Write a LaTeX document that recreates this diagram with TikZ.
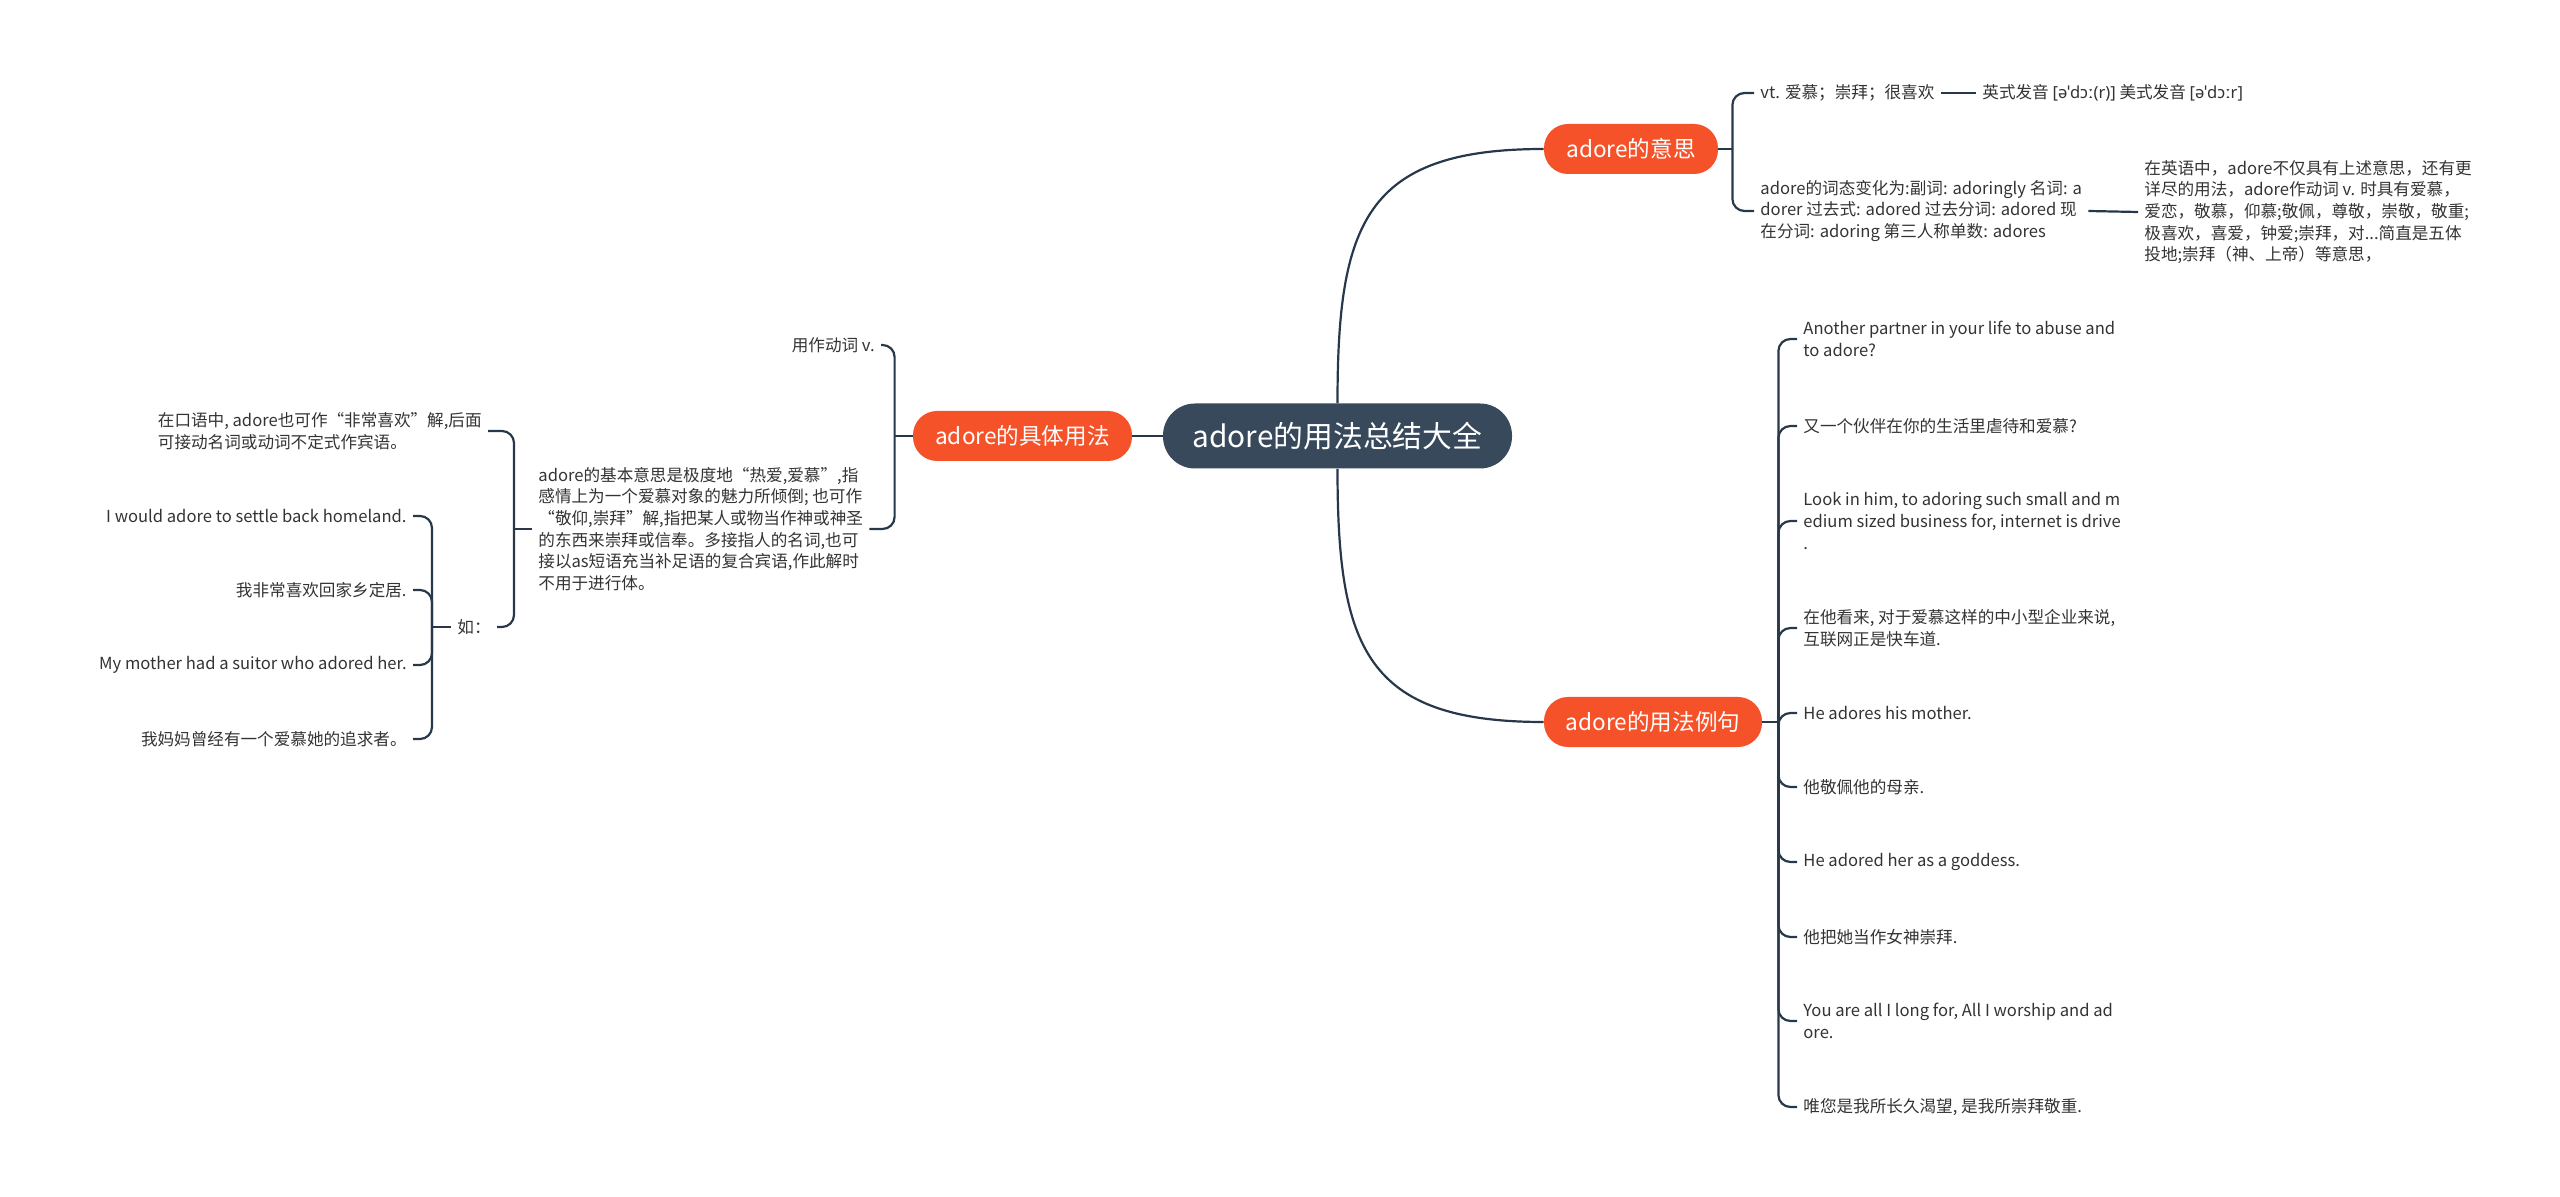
\documentclass[tikz,border=0pt]{standalone}
\usepackage{fontspec}
\setmainfont{Noto Sans CJK SC}
\newfontfamily\ipafont{Noto Sans}
\usepackage{xcolor}
\definecolor{textcolor}{HTML}{333333}
\definecolor{rootfill}{HTML}{37495B}
\definecolor{topicfill}{HTML}{F5522A}
\definecolor{linkcolor}{HTML}{27384A}
\usepackage{tikz}
\usetikzlibrary{positioning}
\tikzset{
    rootblock/.style={
        rectangle,
        fill=rootfill,
        text=white,
        minimum height=32.5pt,
        minimum width=174.5pt,
        rounded corners=16pt,
        font=\fontsize{14.9pt}{18pt}\selectfont,
    },
    topicblock/.style={
        rectangle,
        fill=topicfill,
        text=white,
        minimum height=25pt,
        rounded corners=12pt,
        font=\fontsize{11.3pt}{14pt}\selectfont,
    },
    leaf/.style={
        text=textcolor,
        align=left,
        inner xsep=3pt,
        inner ysep=2pt,
        font=\fontsize{8.3pt}{10.85pt}\selectfont,
    },
    link/.style={
        draw=linkcolor,
        line width=1.1pt,
    },
    brace/.style={
        link,
        rounded corners=6pt,
    },
}

\begin{document}
\begin{tikzpicture}[x=0.5pt,y=-0.5pt]
    \useasboundingbox (0,0) rectangle (2560,1197);

    \node[rootblock] (root) at (1337.5,436) {adore的用法总结大全};
    \node[topicblock, minimum width=87pt] (mean) at (1631,149) {adore的意思};
    \node[topicblock, minimum width=109pt] (ex) at (1653,722) {adore的用法例句};
    \node[topicblock, minimum width=109.5pt] (use) at (1022.5,436) {adore的具体用法};

    \draw[link] (root.north) to[out=90,in=180,looseness=1.4] (mean.west);
    \draw[link] (root.south) to[out=-90,in=180,looseness=1.4] (ex.west);
    \draw[link] (root.west) -- (use.east);

    % meaning branch
    \node[leaf, anchor=west] (m1) at (1754,93) {vt. 爱慕；崇拜；很喜欢};
    \node[leaf, anchor=west] (m1a) at (1976,93) {英式发音 {\ipafont [əˈdɔː(r)]} 美式发音 {\ipafont [əˈdɔːr]}};
    \node[leaf, anchor=west] (m2) at (1754,211) {adore的词态变化为:副词: adoringly 名词: a\\dorer 过去式: adored 过去分词: adored 现\\在分词: adoring 第三人称单数: adores};
    \node[leaf, anchor=west] (m2a) at (2138,212) {在英语中，adore不仅具有上述意思，还有更\\详尽的用法，adore作动词 v. 时具有爱慕，\\爱恋，敬慕，仰慕;敬佩，尊敬，崇敬，敬重;\\极喜欢，喜爱，钟爱;崇拜，对...简直是五体\\投地;崇拜（神、上帝）等意思，};

    \coordinate (meanj) at ([xshift=7pt]mean.east);
    \draw[link] (mean.east) -- (meanj);
    \draw[brace] (meanj) |- (m1.west);
    \draw[brace] (meanj) |- (m2.west);
    \draw[link] (m1.east) -- (m1a.west);
    \draw[link] (m2.east) -- (m2a.west);

    % example branch
    \node[leaf, anchor=west] (e1) at (1797,339) {Another partner in your life to abuse and\\to adore?};
    \node[leaf, anchor=west] (e2) at (1797,426) {又一个伙伴在你的生活里虐待和爱慕?};
    \node[leaf, anchor=west] (e3) at (1797,521) {Look in him, to adoring such small and m\\edium sized business for, internet is drive\\.};
    \node[leaf, anchor=west] (e4) at (1797,628) {在他看来, 对于爱慕这样的中小型企业来说,\\互联网正是快车道.};
    \node[leaf, anchor=west] (e5) at (1797,713) {He adores his mother.};
    \node[leaf, anchor=west] (e6) at (1797,787) {他敬佩他的母亲.};
    \node[leaf, anchor=west] (e7) at (1797,862) {He adored her as a goddess.};
    \node[leaf, anchor=west] (e8) at (1797,937) {他把她当作女神崇拜.};
    \node[leaf, anchor=west] (e9) at (1797,1021) {You are all I long for, All I worship and ad\\ore.};
    \node[leaf, anchor=west] (e10) at (1797,1107) {唯您是我所长久渴望, 是我所崇拜敬重.};

    \coordinate (exj) at ([xshift=8pt]ex.east);
    \draw[link] (ex.east) -- (exj);
    \foreach \i in {1,...,10}
        \draw[brace] (exj) |- (e\i.west);

    % usage branch
    \node[leaf, anchor=east] (verb) at (881,345) {用作动词 v.};
    \node[leaf, anchor=west] (par) at (532,529) {adore的基本意思是极度地“热爱,爱慕”,指\\感情上为一个爱慕对象的魅力所倾倒; 也可作\\“敬仰,崇拜”解,指把某人或物当作神或神圣\\的东西来崇拜或信奉。多接指人的名词,也可\\接以as短语充当补足语的复合宾语,作此解时\\不用于进行体。};

    \coordinate (usej) at ([xshift=-9pt]use.west);
    \draw[link] (use.west) -- (usej);
    \draw[brace] (usej) |- (verb.east);
    \draw[brace] (usej) |- (par.east);

    \node[leaf, anchor=east] (oral) at (488,431) {在口语中, adore也可作“非常喜欢”解,后面\\可接动名词或动词不定式作宾语。};
    \node[leaf, anchor=west] (eg) at (451,627) {如：};

    \coordinate (parj) at ([xshift=-9pt]par.west);
    \draw[link] (par.west) -- (parj);
    \draw[brace] (parj) |- (oral.east);
    \draw[brace] (parj) |- (eg.east);

    \node[leaf, anchor=east] (s1) at (413,516) {I would adore to settle back homeland.};
    \node[leaf, anchor=east] (s2) at (413,590) {我非常喜欢回家乡定居.};
    \node[leaf, anchor=east] (s3) at (413,665) {My mother had a suitor who adored her.};
    \node[leaf, anchor=east] (s4) at (413,739) {我妈妈曾经有一个爱慕她的追求者。};

    \coordinate (egj) at ([xshift=-9.5pt]eg.west);
    \draw[link] (eg.west) -- (egj);
    \foreach \i in {1,...,4}
        \draw[brace] (egj) |- (s\i.east);
\end{tikzpicture}
\end{document}
